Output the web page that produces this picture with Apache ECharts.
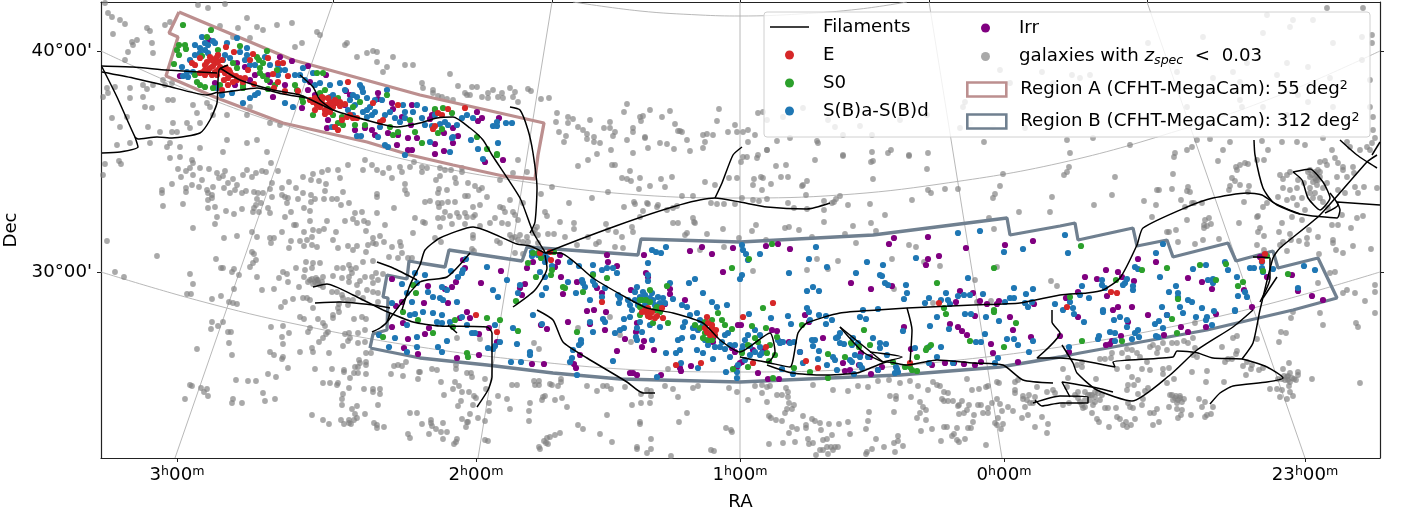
<!DOCTYPE html>
<html><head><meta charset="utf-8"><style>html,body{margin:0;padding:0;background:#fff}#c{width:1405px;height:517px}</style>
<script src="https://cdn.jsdelivr.net/npm/echarts@6/dist/echarts.min.js"></script></head><body><div id="c"></div>
<script>
// All sky values are [x,y] flat pairs in the chart's projected plane units.
const raTicks=[177,476,740,1004,1305];
const raTickText=['3{s|h}00{s|m}','2{s|h}00{s|m}','1{s|h}00{s|m}','0{s|h}00{s|m}','23{s|h}00{s|m}'];
const raTopTicks=[333,552,740,929,1147];
const decTicks=[51,272];
const decTickText=["40°00'","30°00'"];
const gridRA=[[175,458,333,2],[478,458,552,2],[740,458,740,2],[1002,458,929,2],[1305,458,1147,2]];
const gridDec=[[101,51,200,95,300,130,420,163,540,184,640,195,740,198,840,195,940,184,1060,163,1180,130,1280,95,1380,51],
[101,272,200,301,300,325,420,347,540,362,640,370,740,372,840,370,940,362,1060,347,1180,325,1280,301,1380,272],
[573,2,640,11,700,15,740,16,800,14,860,9,907,2]];
const regionA=[179,12,293,60,420,95,544,123,538,155,535,179,503,176,453,165,410,155,367,142,283,123,217,98,166,76,178,37,169,33,179,12];
const regionB=[370,348,420,358,487,365,553,373,620,379,740,382,807,379,900,375,1000,367,1060,357,1080,353,1207,330,1293,310,1337,298,1318,258,1278,268,1273,251,1236,261,1228,243,1173,257,1167,240,1137,246,1133,228,1078,240,1075,223,1060,226,1010,235,1007,218,873,235,740,242,641,239,638,255,527,247,522,261,449,250,445,267,420,263,409,261,407,279,387,275,383,297,388,298,387,330,373,334,370,348];
const filaments=[
[101,66,133,67,167,70,217,73],
[102,72,133,78,167,86,207,95,218,92],
[102,67,117,97,135,137,138,139,157,137,172,138,200,133,210,120,217,103,219,70,228,65],
[135,137,138,147,120,152,102,153],
[220,68,240,80,273,90,300,95,333,110,377,123,397,127,420,123,437,118,453,117,470,128,483,140,492,155,520,198,533,232,545,252],
[218,93,233,91,257,88,283,94,307,98],
[300,75,313,87,320,100,333,110],
[510,107,520,110,528,130,533,153,537,188,535,222,530,233],
[402,310,410,285,420,265,425,250,440,238,473,227,517,244,530,246,545,253],
[388,321,420,282,447,277,470,253],
[372,332,380,328,387,322,390,313],
[383,310,413,322,440,326,487,327,492,333,492,377,488,390,477,407],
[448,325,457,333],
[377,262,393,268,417,280],
[313,287,327,284,353,295,383,310],
[315,303,340,302,373,305,390,308],
[545,253,715,198,740,202,767,207,807,209,830,203],
[715,198,722,183,733,155,742,147],
[545,253,560,253,593,278,627,298,647,308,673,313,703,323,720,340,740,352,770,333,775,352,768,362,740,357,770,363,790,367,798,333,807,323,840,313,877,310,907,308,973,305,1020,303,1060,295,1087,293,1103,290,1120,278,1137,245,1143,228,1187,207,1213,198,1247,193,1262,195,1277,205,1300,214,1337,218,1340,210,1337,202,1380,205],
[767,365,792,373,823,375,857,373,873,367,887,362,907,365,937,360,973,363,1003,365,1023,380,1053,383],
[1062,345,1073,363,1077,373,1097,390,1132,401,1170,375,1197,350,1233,327,1253,310],
[840,327,883,362],[840,327,863,352,883,362],[870,352,902,357,883,362],[907,308,912,330,910,362],
[1052,310,1052,322,1060,333,1037,358,1060,358,1115,367,1113,362,1173,357,1177,351,1192,352,1198,353,1213,358,1242,359,1267,367,1283,378,1267,382,1233,386,1220,393,1210,404],
[1242,359,1253,343,1260,310,1273,258,1280,248,1320,215,1367,162,1377,155],
[1253,257,1270,258,1270,278,1260,302],[1277,277,1263,298],
[1293,172,1310,169,1323,182,1330,198,1320,210,1308,198,1302,180,1293,172],
[1330,193,1338,205,1325,213],
[1254,140,1255,155,1263,188,1273,202,1300,214],
[1340,140,1357,155,1377,168],[1372,155,1380,142],
[1113,392,1097,388,1062,382,1070,397],
[1033,403,1060,396,1088,397,1088,403,1060,403,1042,406,1035,400],
[537,310,553,320,563,342,587,358,627,382,643,393,655,393],
[513,307,535,290,547,268,545,255]
];
const galaxiesLow=[105,3,108,13,112,17,120,20,125,24,113,34,132,42,137,40,133,45,152,43,147,28,150,31,165,25,153,53,128,52,125,60,170,22,198,5,208,8,225,4,247,18,257,27,238,28,220,26,233,37,250,38,263,30,277,25,292,23,317,32,320,35,302,43,295,47,345,45,347,43,357,57,367,53,373,51,377,52,393,57,377,62,387,67,383,72,413,65,405,65,
107,88,108,93,103,97,115,87,130,88,143,85,147,89,153,85,163,80,165,85,172,83,143,97,130,98,152,108,145,107,112,118,127,117,120,127,148,127,173,123,187,123,190,128,172,132,177,132,160,132,117,145,130,143,150,143,167,147,170,143,180,147,200,123,213,115,227,115,210,107,207,103,193,105,197,113,227,140,247,143,257,140,270,123,247,115,200,148,223,152,267,152,280,125,250,107,173,100,168,100,
450,74,422,83,423,88,433,90,433,93,438,96,442,97,447,99,453,100,458,86,465,93,467,95,472,87,477,87,470,95,482,97,488,98,488,93,493,90,498,97,502,93,503,98,510,88,515,92,513,97,518,102,528,89,531,91,541,99,549,98,557,113,568,117,573,119,568,123,590,120,556,122,578,127,583,130,559,132,566,136,564,142,587,134,594,137,587,139,594,142,600,143,604,128,610,122,610,128,615,132,613,136,624,112,627,104,640,117,643,116,641,121,650,110,662,117,670,111,675,124,633,128,633,132,627,140,645,137,645,138,660,143,667,144,648,148,674,149,678,131,680,131,682,132,687,140,703,135,707,134,705,142,703,148,713,135,717,121,719,109,728,132,735,125,737,132,748,130,743,132,755,135,748,142,758,113,611,150,633,153,597,154,690,151,767,150,758,155,
1293,20,1313,20,1290,27,1372,35,1372,43,1327,8,1363,8,1267,15,1287,63,1308,67,1242,107,1240,100,1203,37,1263,33,1333,43,1362,37,1362,60,1370,80,1370,107,1373,117,1373,130,1298,95,1308,102,1287,115,1330,78,1277,75,1247,63,1213,78,1187,107,1177,72,1148,43,1080,78,1090,75,1263,107,1333,107,1233,72,1240,82,1042,72,1072,75,1000,70,1010,83,965,102,963,107,1025,128,993,127,970,123,927,115,900,120,872,135,860,126,843,135,835,127,828,120,803,108,783,117,767,120,763,112,960,128,1053,83,
777,141,767,150,790,138,817,141,818,143,843,155,872,152,888,153,891,150,909,155,928,153,984,142,1067,140,1070,153,1093,138,1130,145,1175,153,1187,150,1192,147,1197,140,1210,139,1230,142,1223,150,1262,141,1268,150,1282,142,1297,142,1305,145,1323,138,1332,150,1347,142,1350,147,1360,150,1367,147,1372,143,1370,150,1375,138,
119,161,121,164,105,164,103,175,170,158,180,157,192,160,193,163,200,168,190,168,186,171,178,169,181,177,193,175,209,169,202,180,192,185,186,188,186,192,172,184,162,190,162,193,163,206,183,204,199,187,207,190,208,193,212,195,213,187,217,173,219,178,223,176,225,171,233,179,228,183,237,185,224,188,230,193,235,190,243,175,247,170,252,177,256,173,262,171,266,172,271,163,278,171,272,183,270,189,246,191,242,193,254,192,258,193,263,193,272,197,257,199,256,205,254,208,253,212,259,212,261,203,268,208,270,213,208,200,212,198,215,207,208,208,217,217,215,224,226,211,234,214,242,209,193,228,237,236,224,238,252,232,257,237,270,238,274,238,271,243,107,241,157,256,216,259,252,252,254,254,256,260,253,263,250,267,221,268,223,268,232,272,234,269,115,272,124,277,190,274,193,284,239,275,234,289,187,294,191,294,212,299,221,296,229,302,233,303,237,304,257,277,262,290,274,289,279,278,283,272,287,274,296,268,288,282,299,287,285,302,293,299,281,307,
289,182,282,188,296,188,303,193,282,195,285,197,288,198,287,203,298,199,311,202,304,208,310,211,291,212,285,217,294,225,296,225,282,232,304,232,310,221,327,221,313,230,319,231,324,229,336,232,312,237,307,240,300,241,291,241,289,248,304,246,312,245,317,247,333,240,338,248,348,246,357,246,353,250,366,252,368,245,373,243,376,244,384,242,380,236,373,238,366,231,364,221,368,223,357,223,345,221,353,219,355,213,362,212,385,225,377,213,394,208,377,197,377,194,341,205,349,203,337,199,332,199,324,199,315,199,311,195,343,192,325,191,326,184,319,181,311,180,303,177,313,174,322,172,328,170,338,170,340,178,348,165,363,170,365,160,372,165,377,170,383,173,392,178,389,168,400,167,402,172,410,167,414,162,405,184,405,190,407,194,415,218,413,233,400,242,401,246,392,247,398,258,389,257,408,258,412,258,402,253,373,261,363,262,349,265,343,268,351,269,356,268,337,268,320,263,312,268,306,262,313,263,305,270,304,277,308,282,312,279,317,280,318,283,323,277,333,276,323,287,342,278,349,277,352,273,349,282,360,281,357,285,367,290,373,283,378,280,376,273,383,274,372,277,365,277,337,292,342,295,358,293,373,292,378,293,343,298,348,300,353,300,307,298,310,300,303,298,339,304,332,292,363,298,378,302,348,305,313,308,338,308,
212,322,218,326,223,322,211,329,228,332,231,332,229,343,197,349,232,355,270,352,274,355,283,357,282,359,288,368,268,374,276,377,236,380,248,381,256,381,190,385,192,386,201,388,207,389,204,392,208,396,185,399,233,399,232,403,242,403,263,393,265,401,275,399,271,327,283,326,289,333,282,337,283,344,300,317,304,319,318,319,310,328,308,332,323,323,325,326,333,315,333,318,328,332,326,334,323,338,319,342,339,312,354,319,362,317,366,319,365,330,358,333,345,334,349,333,350,338,348,341,343,346,358,343,365,342,300,352,312,348,313,352,329,353,315,369,332,369,344,370,344,372,350,378,354,373,358,373,355,367,358,367,359,360,360,363,366,362,366,365,366,374,366,353,371,353,323,383,330,383,337,385,338,383,349,388,343,394,342,399,342,405,364,389,373,389,373,392,380,389,380,394,357,406,352,409,355,414,357,418,354,420,365,414,378,405,312,415,323,420,329,424,341,420,344,424,349,420,351,424,349,423,374,423,377,425,377,428,384,427,408,434,410,438,410,413,417,413,394,366,398,365,402,366,406,362,391,374,403,376,418,379,419,372,
420,372,432,369,437,370,456,365,456,369,467,373,471,373,472,377,441,382,455,382,459,386,453,389,462,392,469,392,485,379,486,389,444,395,474,396,476,398,461,401,458,406,473,405,489,403,498,396,507,399,489,411,510,409,470,414,462,419,478,418,485,421,467,422,468,422,466,427,443,423,431,420,431,423,432,426,436,429,441,432,447,432,422,424,429,434,443,439,457,439,456,442,454,444,485,440,488,441,512,385,517,385,534,381,539,381,535,385,539,385,550,384,552,385,558,386,561,379,561,382,545,396,543,397,542,400,555,400,562,398,530,403,529,411,529,421,567,407,578,425,583,429,560,433,555,435,550,437,547,438,544,441,546,443,548,444,539,447,540,449,587,386,597,391,603,386,607,386,611,389,625,387,607,415,600,434,612,442,637,447,637,449,647,453,651,449,651,439,640,422,640,424,632,405,641,403,650,403,641,394,647,390,651,391,651,396,665,386,673,389,678,397,687,413,679,422,693,388,698,386,729,388,737,392,726,428,731,430,732,432,711,450,714,451,671,456,
748,400,755,386,762,385,762,393,767,387,770,386,767,402,777,395,782,395,786,388,788,392,788,397,789,403,794,405,787,409,792,409,785,413,803,416,769,416,771,418,776,420,782,421,812,419,815,421,820,423,806,425,806,428,829,424,839,424,848,422,868,421,866,429,821,430,792,427,797,429,789,433,795,442,783,443,769,444,808,439,813,443,809,444,823,440,827,439,832,435,850,434,820,450,823,450,827,447,831,447,835,447,838,447,833,450,816,455,828,454,867,452,866,454,872,449,876,439,884,447,894,443,895,452,903,446,898,436,898,441,921,431,932,429,944,427,947,427,941,441,952,436,954,434,957,440,959,442,965,439,957,428,986,445,968,428,971,428,973,422,974,415,959,414,964,413,967,410,969,405,959,405,958,406,978,405,981,405,988,408,983,413,988,413,920,402,923,407,926,410,920,413,917,418,926,420,894,412,869,412,890,396,896,396,896,399,911,397,942,399,944,401,948,401,953,401,962,401,972,390,979,389,986,387,988,386,967,379,944,392,948,393,940,386,937,385,933,382,928,390,918,386,910,381,900,383,889,380,878,381,868,387,858,386,848,391,833,390,813,385,997,382,999,383,1015,382,1018,380,1015,390,1015,393,1023,396,1029,395,1023,399,1035,397,1037,387,1047,392,1053,390,1055,393,1025,407,997,399,992,403,1000,404,1008,407,1002,411,1013,411,1028,415,1022,418,1042,417,1048,424,1035,427,1047,433,998,418,995,423,997,425,1003,424,1001,429,1030,403,1033,403,1027,400,
1063,369,1068,378,1077,365,1082,367,1067,387,1078,392,1063,405,1069,403,1082,405,1083,408,1090,395,1095,397,1093,405,1100,400,1105,408,1092,413,1108,408,1096,379,1097,419,1099,422,1109,427,1116,408,1117,417,1120,419,1126,422,1123,425,1127,427,1131,425,1135,419,1128,403,1130,407,1133,408,1142,405,1143,399,1138,394,1145,391,1148,388,1128,385,1127,390,1134,385,1138,380,1132,377,1117,369,1128,367,1142,369,1150,370,1163,369,1169,368,1163,374,1174,379,1167,383,1172,395,1176,396,1173,400,1180,398,1184,399,1177,403,1169,407,1177,409,1182,410,1181,415,1178,418,1191,415,1150,413,1154,413,1157,409,1159,422,1153,425,1192,372,1207,371,1206,382,1224,382,1199,399,1205,402,1202,407,1213,407,1211,414,1207,415,1205,417,1246,375,1243,366,1251,369,1259,370,1263,368,1252,365,1247,362,1225,362,1228,359,1232,359,1236,354,1237,351,1222,347,1233,338,1237,336,1257,339,1279,342,1281,332,1286,333,1291,318,1293,312,1320,313,1323,325,1356,323,1358,327,1375,313,1283,369,1289,363,1290,373,1298,372,1298,375,1294,379,1288,380,1287,377,1285,380,1282,379,1278,379,1289,386,1290,392,1293,396,1287,399,1280,397,1277,389,1270,389,1282,390,1312,379,1360,383,1127,349,1132,350,1137,353,1140,357,1128,358,1111,358,1100,359,1105,359,1112,353,1122,353,1150,347,1153,345,1158,348,1167,350,1163,343,1172,343,1177,343,1184,341,1188,343,1193,338,1195,348,1193,355,1197,357,1195,323,1157,353,1147,362,1082,362,
1174,157,1069,167,1067,172,1064,175,1115,177,1112,195,1094,205,1144,201,1156,205,1173,174,1172,189,1159,190,1157,190,1152,217,1169,232,1167,232,1176,230,1178,242,1187,220,1181,200,1187,191,1188,187,1190,192,1185,207,1192,203,1194,203,1202,203,1205,220,1209,218,1204,225,1204,228,1207,226,1211,224,1203,240,1195,244,1219,239,1218,161,1236,167,1240,165,1237,170,1245,163,1248,164,1257,160,1264,160,1232,178,1235,181,1230,186,1229,190,1240,185,1249,186,1248,192,1244,202,1263,207,1267,203,1258,216,1257,217,1239,223,1260,228,1258,232,1264,236,1257,245,1264,250,1279,232,1290,234,1291,240,1283,242,1280,245,1287,251,1299,241,1307,238,1307,244,1309,230,1318,237,1319,254,1333,240,1333,243,1336,250,1343,253,1353,246,1371,249,1351,228,1338,225,1332,225,1302,220,1292,217,1282,223,1297,205,1305,210,1278,197,1287,200,1293,198,1302,198,1290,190,1283,188,1297,188,1304,183,1280,175,1283,179,1287,175,1290,172,1298,180,1310,177,1315,178,1317,175,1318,180,1320,177,1317,185,1310,188,1323,188,1327,183,1310,193,1315,193,1313,198,1320,198,1323,202,1328,208,1327,165,1320,162,1325,161,1335,158,1338,163,1343,167,1343,170,1353,167,1337,177,1347,177,1354,173,1355,187,1364,187,1338,190,1345,193,1358,193,1377,188,1357,218,1363,216,1342,215,1375,285,1375,292,1365,301,1355,293,1343,293,1347,290,1335,272,1330,273,1318,283,
753,271,807,270,817,259,838,261,828,269,856,243,909,245,916,247,892,259,924,262,940,266,975,280,997,267,894,289,933,303,991,301,1051,281,1057,286,977,302,
743,157,747,157,757,158,776,166,786,165,815,160,843,156,871,162,873,161,909,156,927,169,754,179,761,177,763,178,781,177,788,177,807,181,803,185,802,186,753,185,771,184,762,190,873,179,1003,174,1000,186,995,194,993,198,1052,197,1050,212,1019,212,989,218,994,229,928,190,931,193,945,189,958,189,912,200,870,204,848,205,840,196,836,199,834,202,832,203,824,201,824,210,806,195,807,209,794,208,788,203,767,199,759,201,753,200,742,198,885,215,871,223,876,231,853,226,845,234,824,222,799,230,789,227,785,228,756,225,752,231,812,237,766,240,741,162,
422,167,427,168,422,172,440,168,445,170,451,170,462,168,462,172,436,180,440,176,455,178,456,183,468,183,475,186,482,188,479,190,439,189,447,190,438,193,465,196,468,196,487,197,425,202,430,201,438,203,442,203,448,202,455,202,439,207,480,205,473,207,445,212,457,213,465,213,475,215,473,217,467,217,459,217,450,216,438,218,443,218,423,222,425,223,440,227,452,224,465,224,480,226,490,223,495,218,502,223,508,224,500,207,503,208,505,212,513,212,515,215,518,220,523,203,510,200,500,180,527,172,518,160,513,173,552,187,541,194,545,212,547,216,537,227,535,230,533,233,527,237,528,242,538,235,548,234,554,234,538,243,520,235,515,237,512,238,510,235,523,242,518,240,497,241,500,243,473,235,473,238,435,238,441,242,472,249,474,251,515,253,523,254,577,245,560,222,574,223,574,229,565,237,588,237,596,244,599,242,615,247,622,237,623,248,606,224,608,230,616,232,632,227,633,232,640,217,643,211,648,204,657,207,658,205,667,210,673,223,678,223,687,233,685,235,693,218,694,222,695,223,707,234,723,229,739,238,724,247,700,250,578,166,588,160,612,165,615,165,630,171,622,178,627,179,631,181,640,178,639,189,650,186,661,179,665,187,672,177,608,192,592,198,569,203,624,207,634,202,635,204,647,203,682,196,693,196,705,182,729,178,737,178,715,185,711,203,717,204,724,204,735,204,677,206,673,208,
457,338,480,339,534,343,539,349,578,328,610,317,620,335,631,342,668,369,
1085,392,1088,395,1092,395,1085,400,1090,400,1078,398,1075,395,1095,392,1098,393,1102,395,1080,402,1085,407,1095,402,1310,170,1312,175,1315,172,1313,182,1318,170,1308,172,1320,172,1316,180,310,280,315,282,318,280,320,285,316,278,313,284,322,282,1175,398,1178,400,1180,396,1182,402,1170,395,1288,376,1292,378,1296,380,1290,382,1284,376];
const typeIrr=[209,40,237,63,280,57,292,61,308,66,326,75,180,76,215,83,235,85,273,97,308,90,302,108,328,120,327,128,346,91,378,93,378,99,392,103,393,109,402,117,411,125,408,138,398,135,388,133,372,130,397,145,408,150,412,150,417,138,412,105,268,75,432,115,435,110,430,119,478,121,482,118,499,118,477,112,453,128,444,133,458,136,453,143,435,144,444,151,435,154,503,160,485,162,463,260,501,271,465,268,481,283,428,286,456,282,452,287,520,288,525,284,522,295,445,289,448,303,424,303,527,268,533,262,558,262,555,267,561,277,563,294,577,282,597,288,602,293,607,255,608,262,617,266,644,255,646,273,648,277,631,290,670,289,670,294,665,304,685,300,690,251,702,247,712,254,733,248,723,272,560,255,392,279,402,302,396,306,392,327,403,323,408,339,404,348,418,354,425,334,429,328,460,318,470,318,467,312,479,334,489,328,497,342,479,355,457,358,532,364,544,364,541,325,547,329,568,322,590,324,605,330,587,311,606,312,594,310,580,355,574,364,576,368,617,351,630,373,633,373,637,375,661,375,637,323,636,332,644,341,642,347,654,350,625,339,680,368,681,371,691,366,713,338,713,342,732,348,737,367,735,352,738,325,741,325,772,330,777,331,782,342,789,342,805,315,809,322,823,338,753,350,763,350,758,373,768,379,779,379,800,352,740,363,742,362,843,363,845,371,850,370,859,365,871,374,878,370,882,367,870,357,861,353,911,349,904,327,950,324,958,327,962,331,967,335,975,316,991,344,993,353,1010,317,1013,330,1031,337,932,365,945,363,954,363,964,364,975,365,981,362,1018,362,766,246,778,244,790,249,851,283,871,289,889,244,894,238,928,237,966,248,939,256,928,259,926,265,892,286,960,291,973,293,956,302,980,301,987,304,997,304,999,301,1034,304,1005,245,1033,241,1085,277,1097,279,1106,270,1118,272,1122,277,1134,281,1138,259,1156,262,1078,292,1107,296,1066,298,1113,310,1118,307,1132,307,1188,278,1202,282,1212,289,1244,290,1252,307,1264,256,1260,257,1267,277,1292,275,1298,291,1312,296,1323,300,1078,317,1148,315,1167,315,1128,322,1121,336,1112,341,1106,345,1110,344,1164,335,1181,327,1188,332,1206,327,1216,314,1069,352,1060,336,
245,67,250,80,255,75,270,82,285,85,310,82,315,95,345,105,350,95,355,130,365,128,375,135];
const typeSpiral=[202,37,213,41,215,43,205,43,200,48,200,53,208,53,218,55,227,43,237,38,247,48,223,60,182,67,187,72,183,76,188,77,193,72,247,55,265,57,280,70,278,75,278,65,303,68,300,75,313,73,320,83,330,97,340,83,360,85,362,88,363,92,357,97,353,95,367,98,370,107,363,112,367,110,372,115,387,90,382,100,403,105,417,105,405,112,413,112,405,118,380,127,357,136,361,136,378,137,385,145,388,147,405,155,250,98,255,95,258,93,243,103,232,93,222,95,217,88,285,103,293,107,333,95,332,127,348,110,353,115,367,117,425,109,435,115,422,118,425,125,432,126,440,124,445,122,448,125,457,125,462,118,467,115,473,118,453,137,452,138,430,142,450,152,471,140,478,149,498,143,493,126,497,122,497,126,506,123,512,123,483,159,532,252,532,256,538,255,545,255,547,258,545,262,466,259,487,267,463,270,462,273,458,277,451,271,507,280,520,285,518,293,493,290,498,297,442,287,447,290,428,292,433,297,440,298,443,300,457,302,425,275,540,272,545,277,552,266,568,282,570,262,579,266,593,265,602,270,607,268,613,268,617,273,593,274,582,280,583,283,585,287,593,281,595,285,602,297,605,288,546,288,542,295,576,293,590,300,618,295,620,298,619,303,628,300,637,287,635,292,643,292,652,293,653,300,647,302,658,297,663,298,673,299,682,305,687,307,703,293,712,302,717,307,648,263,652,250,656,252,661,253,666,247,648,275,648,281,670,283,689,283,695,279,727,305,392,303,402,284,407,293,412,302,415,273,417,283,379,335,395,338,389,347,407,325,417,337,417,347,407,352,410,315,415,314,423,312,433,313,442,315,437,322,442,323,450,322,462,317,467,325,472,333,475,333,447,341,438,347,442,352,495,325,500,342,495,346,488,348,493,349,513,328,517,344,533,315,542,324,511,362,521,362,530,352,530,355,573,350,572,358,570,362,581,340,581,343,579,345,577,375,590,322,593,332,603,319,605,322,615,333,620,330,624,319,624,328,630,317,637,328,642,332,636,337,637,340,652,340,666,353,676,353,680,350,682,338,678,340,683,327,685,322,693,328,690,315,697,313,693,337,697,350,703,353,713,359,708,345,715,347,720,347,725,349,728,333,730,357,726,372,698,368,681,363,613,361,657,377,737,372,737,378,738,365,749,314,771,318,788,316,791,324,809,312,810,320,819,315,826,316,826,324,832,320,860,317,866,319,840,333,838,337,836,338,840,343,844,344,853,338,858,343,852,345,873,338,880,343,886,344,880,348,860,357,868,357,855,355,852,362,860,365,862,368,854,374,887,355,878,370,896,367,898,372,895,373,815,340,812,340,813,346,819,351,794,342,790,343,780,343,783,342,750,346,743,346,760,347,762,353,742,350,778,340,782,369,793,374,818,359,827,365,803,363,800,352,833,357,835,360,837,370,850,360,915,348,929,347,903,331,930,326,941,347,937,317,949,329,965,314,971,314,986,317,999,321,985,334,1007,339,1014,339,1018,345,1033,341,1029,352,976,342,981,342,998,358,995,363,937,357,929,363,897,369,953,363,742,245,743,250,746,254,748,260,760,254,742,275,740,279,789,273,809,259,816,247,827,267,856,273,867,262,883,265,880,275,882,276,885,283,888,285,807,291,813,287,819,291,906,285,907,293,904,299,916,258,925,303,929,298,941,300,946,293,948,300,950,304,958,296,964,295,970,295,983,294,968,278,1004,252,1023,249,958,233,980,231,1014,288,1026,294,1033,289,1010,298,1014,298,1005,302,1025,303,1032,302,1028,307,1055,304,863,310,878,309,807,308,1065,235,1068,253,1082,286,1102,280,1102,285,1105,288,1123,285,1127,279,1125,283,1133,286,1133,290,1135,267,1138,269,1156,253,1163,244,1160,277,1176,286,1169,292,1178,293,1178,297,1188,300,1192,302,1193,269,1206,265,1208,280,1213,279,1213,283,1228,270,1237,277,1225,262,1238,296,1245,292,1247,297,1250,268,1254,268,1262,268,1263,272,1262,262,1273,269,1304,266,1315,270,1298,288,1080,295,1089,298,1070,302,1073,308,1103,310,1162,307,1180,307,1202,308,1235,310,1103,312,1120,317,1114,320,1127,320,1127,327,1084,322,1110,332,1115,333,1099,336,1098,339,1115,341,1132,339,1135,333,1138,330,1139,337,1155,324,1159,321,1163,328,1156,336,1158,337,1167,315,1183,313,1196,317,1207,317,1206,320,1214,311,1235,311,1212,325,1069,347,1063,310,1074,314,
635,300,640,297,645,295,650,298,638,305,645,305,655,305,660,303,665,303,630,305,632,310,640,322,650,325,660,327,700,320,703,325,698,330,705,340,725,335,722,342,730,345,735,345,745,360,750,355,755,352,760,355,745,340,748,335,755,330,760,335,195,55,205,50,190,60,195,45,208,45,225,55,230,58,240,52,245,60,255,65,250,65,270,65,285,70,295,75,305,80,315,85,330,85,345,90,350,100,355,105,375,100,390,112,395,118,400,122,375,112,385,115];
const typeS0=[183,25,211,30,207,37,185,45,186,49,179,45,177,50,179,55,174,64,202,56,218,50,240,46,233,63,237,68,257,57,267,51,259,60,263,63,260,68,260,73,263,76,277,70,267,80,275,85,195,75,197,82,200,85,205,87,213,88,220,85,243,85,243,88,268,89,295,85,297,90,302,98,303,102,313,115,317,73,323,73,325,90,320,93,338,98,333,115,342,117,343,125,338,123,360,102,353,107,355,125,365,125,387,95,390,127,393,135,398,132,415,132,410,120,435,109,443,108,452,113,442,129,438,133,422,143,477,137,487,149,497,154,497,155,528,263,533,253,538,253,541,258,554,252,552,270,551,275,536,277,563,287,565,288,583,292,607,278,593,275,516,301,650,290,667,286,642,300,640,307,657,307,732,268,413,285,416,293,455,320,487,318,500,320,433,333,453,327,518,331,467,353,468,357,577,332,640,315,653,323,668,323,695,325,705,333,703,338,712,320,718,313,732,329,733,369,383,337,403,312,418,320,752,326,766,328,777,337,758,342,767,353,769,361,742,353,748,367,773,378,794,368,810,372,828,354,828,378,802,325,864,330,851,343,859,347,870,345,845,357,917,357,927,348,931,345,926,350,893,362,905,367,912,370,917,371,910,367,946,314,994,312,1016,323,970,341,1004,347,749,259,772,244,763,308,937,283,944,308,994,268,994,310,1081,246,1142,270,1167,268,1116,280,1070,297,1178,299,1200,265,1226,264,1216,280,1238,286,1243,282,1263,271,1267,256,1288,274,1172,319,1177,333,1122,341,1082,341,
640,300,646,300,650,302,655,310,660,312,700,328,705,322,708,340,712,340,722,320,725,325,748,345,755,338,770,345,775,355];
const typeE=[192,63,195,65,200,58,210,57,218,55,226,47,234,52,215,63,210,68,205,75,215,72,220,67,225,73,228,78,237,80,243,82,232,75,208,72,213,66,218,62,203,72,217,75,222,90,228,85,248,70,253,54,250,60,268,58,278,63,283,63,273,74,288,76,254,84,278,82,285,91,274,88,298,91,348,82,313,102,318,100,323,98,330,102,320,107,325,110,317,105,333,107,338,103,340,102,327,105,322,97,342,120,347,117,338,130,335,127,357,118,373,103,383,120,380,122,398,105,435,126,433,129,438,113,442,115,448,109,465,108,602,302,540,253,550,252,551,260,648,308,662,308,476,315,497,332,647,313,650,317,657,316,663,318,676,365,701,363,707,317,712,328,713,333,707,332,743,317,766,347,753,363,806,361,818,368,910,363,773,303,939,303,1067,307,1111,292,1117,293,1262,261,1265,254,
205,65,207,62,212,60,216,58,222,60,212,75,218,70,222,70,205,70,200,73,226,68,230,72,236,76,240,78,245,78,224,80,233,82,229,70,315,98,310,100,328,98,335,100,345,104,322,103,330,107,335,103,315,110,325,114,330,112,340,106,350,115,353,118,645,310,652,312,655,318,648,316,642,312,708,323,712,325,716,330,705,328,710,335,715,335];

const pairs=a=>{const o=[];for(let i=0;i+1<a.length;i+=2)o.push([a[i],a[i+1]]);return o;};
const font='"DejaVu Sans"';
const dot='path://M0 0L0 0M39 14L39 14M24 7A4.5 4.5 0 1 1 15 7A4.5 4.5 0 1 1 24 7Z';
const dash='path://M0 0L0 0M39 14L39 14M0 6.2L39 6.2L39 7.8L0 7.8Z';
const line=(d,name,color,w,z,extra)=>Object.assign({type:'line',name,data:pairs(d),symbol:'none',silent:true,animation:false,z,itemStyle:{color},lineStyle:{color,width:w}},extra||{});
const pts=(d,name,color,size,z,op)=>({type:'scatter',name,data:pairs(d),symbolSize:size,silent:true,animation:false,z,itemStyle:{color,opacity:op||1,borderWidth:0},large:false});
const series=[];
gridRA.concat(gridDec).forEach(g=>series.push(line(g,'grid','#b0b0b0',0.9,1,{smooth:g.length>4?0.4:0})));
series.push(pts(galaxiesLow,'galaxies with z','#808080',5.8,2,0.68));
series.push(line(regionA,'Region A','#bc8f8f',3.3,3));
series.push(line(regionB,'Region B','#708090',3.3,3));
series.push(pts(typeIrr,'Irr','#800080',6.2,4));
series.push(pts(typeSpiral,'S(B)a-S(B)d','#1f77b4',6.2,5));
series.push(pts(typeS0,'S0','#2ca02c',6.2,6));
series.push(pts(typeE,'E','#d62728',6.2,7));
filaments.forEach(f=>series.push(line(f,'Filaments','#000',1.5,8,{smooth:0.2})));
const fs=18.2,fss=12.6;
const txt={fontFamily:font,fontSize:fs,color:'#000',lineHeight:20,padding:[0,0,0,9],
 rich:{i:{fontFamily:font,fontStyle:'italic',fontSize:fs,lineHeight:20},
 sub:{fontFamily:font,fontStyle:'italic',fontSize:fss,lineHeight:20,padding:[8,0,0,0]},
 sup:{fontFamily:font,fontSize:fss,lineHeight:20,padding:[0,0,8,0]},
 n:{fontFamily:font,fontSize:fs,lineHeight:20}}};
const base={show:true,orient:'vertical',itemWidth:39,itemHeight:14,selectedMode:false,padding:0,z:30,textStyle:txt};
const rect=(c)=>({icon:'rect',itemStyle:{color:'rgba(255,255,255,0.8)',borderColor:c,borderWidth:2.6}});
const option={animation:false,backgroundColor:'#fff',
 grid:{left:101,right:25,top:2,bottom:59,containLabel:false,outerBoundsMode:'none'},
 xAxis:[{type:'value',min:101,max:1380,position:'bottom',name:'RA',nameLocation:'middle',nameGap:35,nameTextStyle:{fontFamily:font,fontSize:fs,color:'#000'},
   axisLine:{show:true,onZero:false,lineStyle:{color:'#222',width:1.2}},splitLine:{show:false},
   axisTick:{show:true,length:4,lineStyle:{color:'#222'},customValues:raTicks},
   axisLabel:{show:true,margin:7,customValues:raTicks,fontFamily:font,fontSize:fs,color:'#000',
     formatter:v=>raTickText[raTicks.indexOf(v)]||'',rich:{s:{fontFamily:font,fontSize:fss,padding:[0,0,8,0]}}}},
  {type:'value',min:101,max:1380,position:'top',axisLine:{show:true,onZero:false,lineStyle:{color:'#222',width:1.2}},splitLine:{show:false},
   axisTick:{show:true,length:3,lineStyle:{color:'#222'},customValues:raTopTicks},axisLabel:{show:false}}],
 yAxis:[{type:'value',min:2,max:458,inverse:true,position:'left',name:'Dec',nameLocation:'middle',nameGap:80,nameTextStyle:{fontFamily:font,fontSize:fs,color:'#000'},
   axisLine:{show:true,onZero:false,lineStyle:{color:'#222',width:1.2}},splitLine:{show:false},
   axisTick:{show:true,length:4,lineStyle:{color:'#222'},customValues:decTicks},
   axisLabel:{show:true,margin:9,customValues:decTicks,fontFamily:font,fontSize:fs,color:'#000',formatter:v=>decTickText[decTicks.indexOf(v)]||''}},
  {type:'value',min:2,max:458,inverse:true,position:'right',axisLine:{show:true,onZero:false,lineStyle:{color:'#222',width:1.2}},splitLine:{show:false},
   axisTick:{show:true,length:4,lineStyle:{color:'#222'},customValues:decTicks},axisLabel:{show:false}}],
 legend:[
  Object.assign({},base,{left:770,top:17,itemGap:8,data:[{name:'Filaments',icon:dash,itemStyle:{color:'#000'}},{name:'E',icon:dot},{name:'S0',icon:dot},{name:'S(B)a-S(B)d',icon:dot}]}),
  Object.assign({},base,{left:966,top:18,itemGap:8,data:[{name:'Irr',icon:dot},{name:'galaxies with z',icon:dot}],
    formatter:n=>n==='Irr'?n:'galaxies with {i|z}{sub|spec} {n| <  0.03}'}),
  Object.assign({},base,{left:966,top:79,itemGap:11,data:[Object.assign({name:'Region A'},rect('#bc8f8f')),Object.assign({name:'Region B'},rect('#708090'))],
    formatter:n=>n==='Region A'?'Region A (CFHT-MegaCam): 55 deg{sup|2}':'Region B (CFHT-MegaCam): 312 deg{sup|2}'})
 ],
 graphic:[{type:'rect',z:20,silent:true,shape:{x:764,y:12,width:606,height:125,r:3},style:{fill:'rgba(255,255,255,0.8)',stroke:'#d0d0d0',lineWidth:1}}],
 series};
const chart=echarts.init(document.getElementById('c'),null,{renderer:'canvas'});
chart.setOption(option);
</script></body></html>
